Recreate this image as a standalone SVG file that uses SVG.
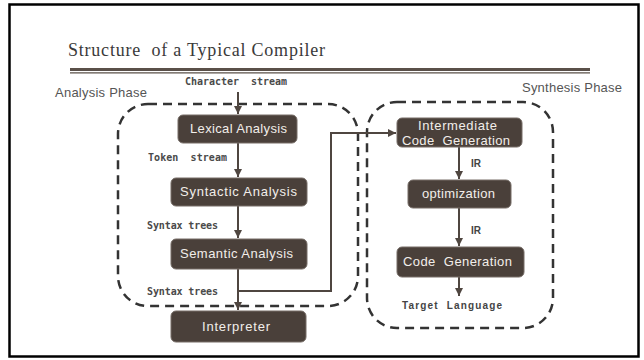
<svg xmlns="http://www.w3.org/2000/svg" width="644" height="360" viewBox="0 0 644 360">
<defs>
<marker id="arr" viewBox="0 0 10 10" refX="10" refY="5" markerWidth="4" markerHeight="4" orient="auto" markerUnits="strokeWidth">
<path d="M0,0 L10,5 L0,10 z" fill="#4f4640"/>
</marker>
<style>
.box{fill:#4a403a;stroke:#766d67;stroke-width:1}
.bt{font-family:"Liberation Sans",Arial,sans-serif;font-size:13px;fill:#f2eeea;text-anchor:middle}
.lbl{font-family:"DejaVu Sans Mono",monospace;font-size:10px;font-weight:bold;fill:#4a4a4a}
.phase{font-family:"Liberation Sans",Arial,sans-serif;font-size:13px;fill:#555}
.dash{fill:none;stroke:#333;stroke-width:2.5;stroke-dasharray:9 6}
.conn{fill:none;stroke:#4f4640;stroke-width:2}
.ir{font-family:"Liberation Sans",Arial,sans-serif;font-size:10px;font-weight:bold;fill:#444}
</style>
</defs>
<rect x="0" y="0" width="644" height="360" fill="#fff"/>
<rect x="9.5" y="4.5" width="629" height="352" fill="none" stroke="#000" stroke-width="2.5"/>
<text x="68" y="56" xml:space="preserve" font-family="Liberation Serif,serif" font-size="18" fill="#3a3a3a" textLength="257">Structure  of a Typical Compiler</text>
<line x1="70" y1="69.5" x2="590" y2="69.5" stroke="#5a5049" stroke-width="3"/>
<line x1="70" y1="72.8" x2="590" y2="72.8" stroke="#5a5049" stroke-width="1.2"/>

<g id="phases">
<text class="phase" x="55" y="97" textLength="92">Analysis Phase</text>
<text class="phase" x="522" y="92" textLength="100">Synthesis Phase</text>
<rect class="dash" x="118" y="104" width="240" height="202" rx="30"/>
<rect class="dash" x="367" y="102" width="186" height="226" rx="30"/>
</g>

<g id="connectors">
<line class="conn" x1="238" y1="92" x2="238" y2="114" marker-end="url(#arr)"/>
<line class="conn" x1="238" y1="142" x2="238" y2="177" marker-end="url(#arr)"/>
<line class="conn" x1="238" y1="206" x2="238" y2="238" marker-end="url(#arr)"/>
<line class="conn" x1="238" y1="269" x2="238" y2="310" marker-end="url(#arr)"/>
<polyline class="conn" points="238,291 331,291 331,133 396,133" marker-end="url(#arr)"/>
<line class="conn" x1="459" y1="147" x2="459" y2="179" marker-end="url(#arr)"/>
<line class="conn" x1="459" y1="208" x2="459" y2="246" marker-end="url(#arr)"/>
<line class="conn" x1="459" y1="277" x2="459" y2="296" marker-end="url(#arr)"/>
</g>

<g id="labels">
<text class="lbl" x="185" y="85" xml:space="preserve" textLength="102">Character  stream</text>
<text class="lbl" x="148" y="161" xml:space="preserve" textLength="79">Token  stream</text>
<text class="lbl" x="147" y="229" textLength="71">Syntax trees</text>
<text class="lbl" x="147" y="295" textLength="71">Syntax trees</text>
<text class="ir" x="471" y="167">IR</text>
<text class="ir" x="471" y="234">IR</text>
<text x="402" y="309" xml:space="preserve" font-family="Liberation Sans,Arial,sans-serif" font-size="10" font-weight="bold" fill="#444" textLength="100">Target  Language</text>
</g>

<g id="lexical">
<rect class="box" x="178" y="115" width="119" height="28" rx="5"/>
<text class="bt" x="238.5" y="133" textLength="97">Lexical Analysis</text>
</g>
<g id="syntactic">
<rect class="box" x="171" y="178" width="136" height="28" rx="5"/>
<text class="bt" x="238.5" y="196" textLength="117">Syntactic Analysis</text>
</g>
<g id="semantic">
<rect class="box" x="171" y="239" width="136" height="30" rx="5"/>
<text class="bt" x="236.5" y="258" textLength="113">Semantic Analysis</text>
</g>
<g id="interpreter">
<rect class="box" x="171" y="311" width="135" height="31" rx="5"/>
<text class="bt" x="236" y="331" textLength="68">Interpreter</text>
</g>
<g id="intermediate">
<rect class="box" x="397" y="118" width="125" height="29" rx="5"/>
<text class="bt" x="457.5" y="129.5" textLength="79">Intermediate</text>
<text class="bt" x="456" y="145" xml:space="preserve" textLength="108">Code  Generation</text>
</g>
<g id="optimization">
<rect class="box" x="408" y="180" width="103" height="28" rx="5"/>
<text class="bt" x="458.5" y="198" textLength="73">optimization</text>
</g>
<g id="codegen">
<rect class="box" x="397" y="247" width="127" height="30" rx="5"/>
<text class="bt" x="457.5" y="266" xml:space="preserve" textLength="109">Code  Generation</text>
</g>
</svg>
